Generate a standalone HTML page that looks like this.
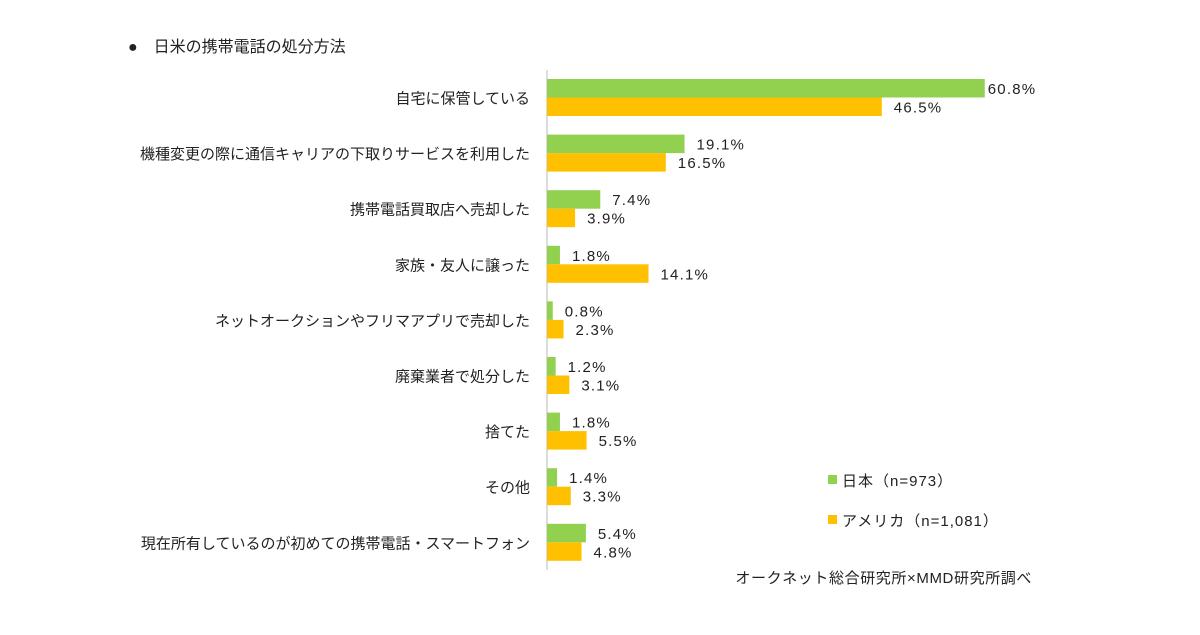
<!DOCTYPE html>
<html><head><meta charset="utf-8"><style>
body{margin:0;background:#fff;}
svg text{font-family:"Liberation Sans","Noto Sans CJK JP",sans-serif;fill:#222;}
</style></head><body>
<svg id="chart" width="1200" height="630" xmlns="http://www.w3.org/2000/svg">
<text x="128" y="52" font-size="16">●　日米の携帯電話の処分方法</text>
<line x1="547" y1="70" x2="547" y2="570" stroke="#d0d0d0" stroke-width="1.5"/>
<g id="bars"></g>
<rect x="828" y="475" width="9" height="9" fill="#92D050"/>
<text x="842" y="486" font-size="15" letter-spacing="1">日本（n=973）</text>
<rect x="828" y="515" width="9" height="9" fill="#FFC000"/>
<text x="842" y="526" font-size="15" letter-spacing="1">アメリカ（n=1,081）</text>
<text x="1032" y="583" font-size="15" text-anchor="end" letter-spacing="0.6">オークネット総合研究所×MMD研究所調べ</text>
</svg>
<script>
const categories=["自宅に保管している","機種変更の際に通信キャリアの下取りサービスを利用した","携帯電話買取店へ売却した","家族・友人に譲った","ネットオークションやフリマアプリで売却した","廃棄業者で処分した","捨てた","その他","現在所有しているのが初めての携帯電話・スマートフォン"];
const japan=[60.8,19.1,7.4,1.8,0.8,1.2,1.8,1.4,5.4];
const usa=[46.5,16.5,3.9,14.1,2.3,3.1,5.5,3.3,4.8];
const NS="http://www.w3.org/2000/svg";
const g=document.getElementById('bars');
const x0=547, k=7.2, top0=79, step=55.6, bh=18.5;
const xs=v=>x0+v*k;
function mk(t,a){const e=document.createElementNS(NS,t);for(const n in a)e.setAttribute(n,a[n]);g.appendChild(e);return e;}
categories.forEach((c,i)=>{
  const y=top0+i*step;
  const lab=mk('text',{x:530,y:y+bh+6,'font-size':15,'text-anchor':'end'});
  lab.textContent=c;
  
  
  [[japan,'#92D050',0,'japan'],[usa,'#FFC000',bh,'usa']].forEach(([arr,col,off,nm])=>{
    const r=mk('rect',{x:x0,y:y+off,width:xs(arr[i])-x0,height:bh,fill:col});
    
    
    const t=mk('text',{x:xs(arr[i])+(arr[i]>55?3:12),y:y+off+15,'font-size':15,'letter-spacing':'1.2'});
    t.textContent=arr[i].toFixed(1)+'%';
    
    
  });
});
</script>
</body></html>
